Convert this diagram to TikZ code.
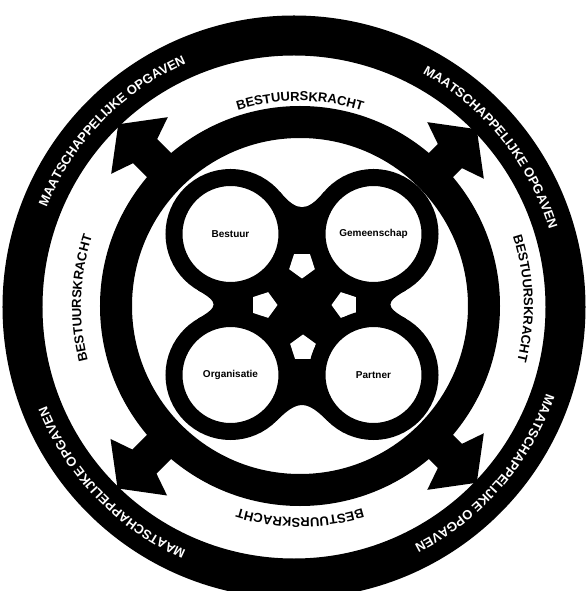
\documentclass[tikz,border=0pt]{standalone}
\usepackage{fontspec}
\setmainfont{Liberation Sans}
\usetikzlibrary{calc,decorations.text,shapes.geometric}
\tikzset{
  ringband/.style={line width=40pt},
  midband/.style={line width=32pt},
  rolecircle/.style={circle, draw, line width=17pt, fill=white, minimum size=113pt,
    inner sep=0pt, font=\fontsize{10}{12}\selectfont\bfseries},
  holeshape/.style={regular polygon, regular polygon sides=5, fill=white,
    minimum size=27pt, inner sep=0pt},
  ringtext/.style={decorate, decoration={text along path, text align=center,
    text color=white, text={|\fontsize{13}{15}\selectfont\bfseries|#1}}},
  bandtext/.style={decorate, decoration={text along path, text align=center,
    text={|\fontsize{13}{15}\selectfont\bfseries|#1}}},
}

\begin{document}
\begin{tikzpicture}[x=1pt, y=1pt]
  \useasboundingbox (-300,-285) rectangle (288,306);
  % outer ring and middle ring
  \draw[ringband] (-6,-1) circle (271.5);
  \draw[midband] (0,0) circle (184);
  % four arrows
  \foreach \ang/\len in {135/257, 45/250, -45/250, -135/258}
    \fill[rotate=\ang] (\len,0) -- (\len-30,40) -- (\len-38,17) -- (180,17)
      -- (180,-17) -- (\len-38,-17) -- (\len-30,-40) -- cycle;
  % centres of the four roles
  \coordinate (tl) at (-69.5,72);
  \coordinate (tr) at (73.5,72);
  \coordinate (bl) at (-69.5,-69);
  \coordinate (br) at (73.5,-69);
  % black core between the circles
  \fill (tl) -- ($(tl)+(40:65)$) .. controls +(-50:26) and +(-130:26) .. ($(tr)+(140:65)$)
    -- (tr) -- ($(tr)+(-60:65)$) .. controls +(-150:24) and +(150:24) .. ($(br)+(60:65)$)
    -- (br) -- ($(br)+(-135:65)$) .. controls +(135:30) and +(45:30) .. ($(bl)+(-45:65)$)
    -- (bl) -- ($(bl)+(120:65)$) .. controls +(30:24) and +(-30:24) .. ($(tl)+(-120:65)$)
    -- cycle;
  \node[holeshape, rotate=180] (holetop) at (2,41) {};
  \node[holeshape] (holebottom) at (3,-42) {};
  \node[holeshape, rotate=-90] (holeleft) at (-36,1) {};
  \node[holeshape, rotate=90] (holeright) at (45,1) {};
  % the four roles
  \node[rolecircle] (bestuur) at (tl) {Bestuur};
  \node[rolecircle] (gemeenschap) at (tr) {Gemeenschap};
  \node[rolecircle] (organisatie) at (bl) {Organisatie};
  \node[rolecircle] (partner) at (br) {Partner};
  % texts on the rings
  \foreach \a/\r in {90/205, 2/224, 178/219, -90/212}
    \path[bandtext=BESTUURSKRACHT] (\a+40:\r) arc[start angle=\a+40, end angle=\a-40, radius=\r];
  \foreach \a in {136, 39, -41, -136}
    \path[shift={(-6,-1)}, ringtext=MAATSCHAPPELIJKE OPGAVEN] (\a+40:266.5)
      arc[start angle=\a+40, end angle=\a-40, radius=266.5];
\end{tikzpicture}
\end{document}
